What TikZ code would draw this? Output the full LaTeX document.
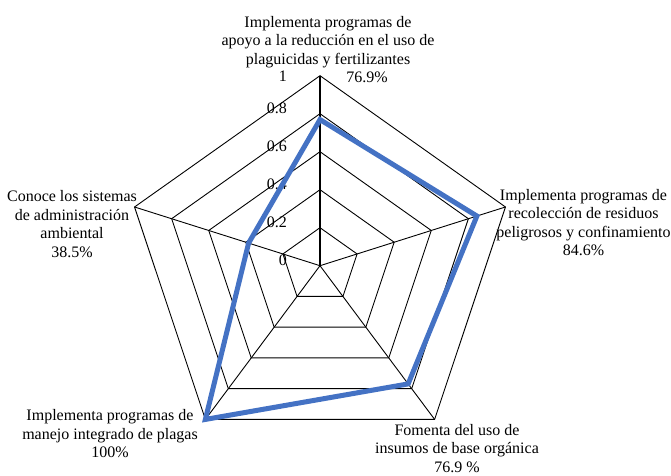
\documentclass[tikz,border=0pt]{standalone}
\usepackage{fontspec}
\setmainfont{Liberation Serif}
\usetikzlibrary{calc}
\begin{document}
\begin{tikzpicture}[x=1pt, y=1pt,
        every node/.style={font=\fontsize{16}{18.5}\selectfont, inner sep=0pt},
        lbl/.style={align=center},
        tick/.style={anchor=east},
        ring/.style={line width=0.9pt}]

                % 定义折线的颜色
                \definecolor{serie}{RGB}{68, 114, 196}

                \useasboundingbox (0,0) rectangle (671,475);

                % 中心点和五个顶点
                \coordinate (o) at (320,209.3);
                \begin{scope}[shift={(o)}, x=195pt, y=190pt]
                    \foreach \i/\a in {1/90, 2/18, 3/-54, 4/-126, 5/162} {
                        \coordinate (v\i) at ({cos(\a)},{sin(\a)});
                    }
                \end{scope}

                % 绘制五层网格
                \foreach \r in {0.2, 0.4, 0.6, 0.8, 1} {
                    \draw[ring] ($(o)!\r!(v1)$) -- ($(o)!\r!(v2)$) -- ($(o)!\r!(v3)$)
                        -- ($(o)!\r!(v4)$) -- ($(o)!\r!(v5)$) -- cycle;
                }

                % 绘制五根轴
                \draw[line width=1.6pt] (o) -- (v1);
                \foreach \i in {2, ..., 5} {
                    \draw[ring] (o) -- (v\i);
                }

                % 刻度
                \foreach \t/\y [count=\k] in {0/260, 0.2/222, 0.4/184, 0.6/146, 0.8/108, 1/76} {
                    \node[tick] (tick\k) at (287,{475-\y}) {\t};
                }

                % 数据折线
                \foreach \i/\p in {1/0.769, 2/0.846, 3/0.769, 4/1, 5/0.385} {
                    \coordinate (d\i) at ($(o)!\p!(v\i)$);
                }
                \draw[serie, line width=5pt] (d1) -- (d2) -- (d3) -- (d4) -- (d5) -- cycle;

                % 添加轴的标签
                \node[lbl] (lab1) at (328,425.5) {Implementa programas de\\apoyo a la reducción en el uso de\\plaguicidas y fertilizantes\\\hspace*{78pt}76.9\%};
                \node[lbl] (lab2) at (583.5,252.5) {Implementa programas de\\recolección de residuos\\peligrosos y confinamiento\\84.6\%};
                \node[lbl] (lab3) at (457,26.5) {Fomenta del uso de\\insumos de base orgánica\\76.9 \%};
                \node[lbl] (lab4) at (110,41) {Implementa programas de\\manejo integrado de plagas\\100\%};
                \node[lbl] (lab5) at (72,251) {Conoce los sistemas\\de administración\\ambiental\\38.5\%};

            \end{tikzpicture}
\end{document}
